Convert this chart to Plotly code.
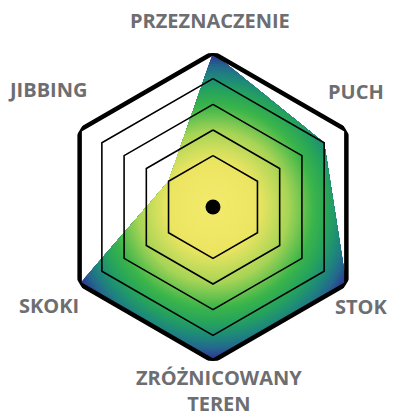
import numpy as np
import plotly.graph_objects as go
from plotly.colors import sample_colorscale

categories = ['PRZEZNACZENIE', 'PUCH', 'STOK', 'ZRÓŻNICOWANY<br>TEREN', 'SKOKI', 'JIBBING']
values = [6, 5, 6, 6, 6, 2]
grid_levels = [2, 3, 4, 5]
r_max = 6

# gradient from the centre outwards
grad = [[0.0, '#f3ea6c'], [0.3, '#ece562'], [0.5, '#a6d456'], [0.66, '#3cb54a'],
        [0.76, '#26a35c'], [0.84, '#1e8c78'], [0.92, '#236a8c'], [1.0, '#2e3192']]

# page has an 8px body margin, so the figure is drawn 8px in
OFF = 8
W, H = 410 - OFF, 418 - OFF
cx, cy, rad = 213 - OFF, 207 - OFF, 154

# label positions (centre of text) in the page
label_pos = [(210, 20), (356, 92), (361, 306), (219, 390), (49, 305), (47, 90)]

n = len(categories)
ang = [i * 360 / n for i in range(n)]


# radius of the data polygon along any angle (edges are straight lines)
def poly_r(theta):
    t = np.radians(theta)
    vs = np.radians(ang + [360])
    rs = values + [values[0]]
    for i in range(n):
        if vs[i] <= t <= vs[i + 1] + 1e-9:
            p1 = np.array([rs[i] * np.cos(vs[i]), rs[i] * np.sin(vs[i])])
            p2 = np.array([rs[i + 1] * np.cos(vs[i + 1]), rs[i + 1] * np.sin(vs[i + 1])])
            d = p2 - p1
            u = np.array([np.cos(t), np.sin(t)])
            return (p1[0] * d[1] - p1[1] * d[0]) / (u[0] * d[1] - u[1] * d[0])
    return values[0]


dense = np.unique(np.concatenate([np.linspace(0, 360, 721), ang + [360]]))
edge = np.array([poly_r(th) for th in dense])

fig = go.Figure()

steps = 70
for k in range(steps, 0, -1):
    rk = r_max * k / steps
    col = sample_colorscale(grad, [rk / r_max])[0]
    fig.add_trace(go.Scatterpolar(r=np.minimum(edge, rk), theta=dense, mode='lines',
                                  fill='toself', fillcolor=col, line=dict(width=0),
                                  hoverinfo='skip', showlegend=False))

for lv in grid_levels:
    fig.add_trace(go.Scatterpolar(r=[lv] * (n + 1), theta=ang + [360], mode='lines',
                                  line=dict(color='black', width=1.6),
                                  hoverinfo='skip', showlegend=False))
fig.add_trace(go.Scatterpolar(r=[r_max] * (n + 1), theta=ang + [360], mode='lines',
                              line=dict(color='black', width=4.5),
                              hoverinfo='skip', showlegend=False))

fig.add_trace(go.Scatterpolar(r=[0], theta=[0], mode='markers',
                              marker=dict(color='black', size=15), showlegend=False))

for lab, (px, py) in zip(categories, label_pos):
    fig.add_annotation(x=(px - OFF) / W, y=1 - (py - OFF) / H, xref='paper', yref='paper',
                       text=lab, showarrow=False, xanchor='center', yanchor='middle',
                       font=dict(family='Open Sans', size=20, color='#6d6e71', weight=700))

fig.update_layout(
    width=W, height=H,
    margin=dict(l=0, r=0, t=0, b=0),
    paper_bgcolor='white',
    plot_bgcolor='white',
    polar=dict(
        domain=dict(x=[(cx - rad) / W, (cx + rad) / W],
                    y=[1 - (cy + rad) / H, 1 - (cy - rad) / H]),
        bgcolor='white',
        radialaxis=dict(range=[0, r_max], visible=False),
        angularaxis=dict(rotation=90, direction='clockwise', visible=False),
    ),
)

fig.write_html('out.html')
